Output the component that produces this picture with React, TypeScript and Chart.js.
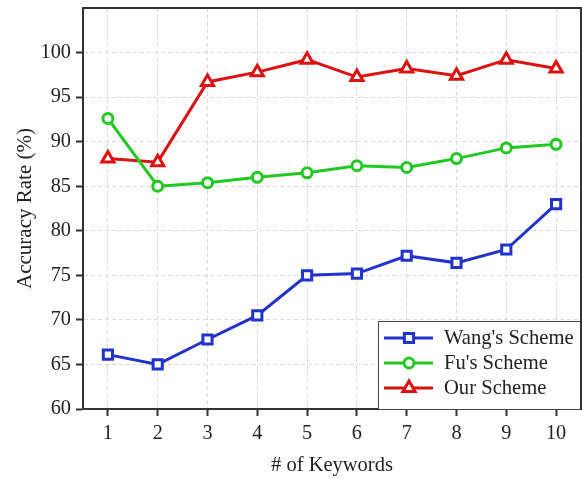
import React, { useEffect, useRef } from "react";
import { Chart, registerables } from "chart.js";
import { drawPoint } from "chart.js/helpers";

Chart.register(...registerables);

const keywords = ["1", "2", "3", "4", "5", "6", "7", "8", "9", "10"];
const wangScheme = [66.1, 65.0, 67.8, 70.5, 75.0, 75.2, 77.2, 76.4, 77.9, 83.0];
const fuScheme = [92.6, 85.0, 85.4, 86.0, 86.5, 87.3, 87.1, 88.1, 89.3, 89.7];
const ourScheme = [88.1, 87.7, 96.7, 97.8, 99.2, 97.25, 98.2, 97.4, 99.2, 98.2];
const seriesNames = ["Wang's Scheme", "Fu's Scheme", "Our Scheme"];
const seriesColors = ["#2233cc", "#22c822", "#dd1111"];

const FONT = "'Liberation Serif', 'Times New Roman', serif";

const framePlugin = {
  id: "frame",
  afterDatasetsDraw(chart: any) {
    const { ctx, chartArea } = chart;
    const { left, right, top, bottom } = chartArea;
    ctx.save();
    // legend box
    const bx1 = 378, bx2 = right, by1 = 321, by2 = bottom;
    ctx.fillStyle = "#ffffff";
    ctx.fillRect(bx1, by1, bx2 - bx1, by2 - by1);
    ctx.strokeStyle = "#444444";
    ctx.lineWidth = 1;
    ctx.strokeRect(bx1 + 0.5, by1 + 0.5, bx2 - bx1 - 1, by2 - by1);
    const rows = [338, 363, 388];
    chart.data.datasets.forEach((ds: any, i: number) => {
      const y = rows[i];
      ctx.strokeStyle = ds.borderColor;
      ctx.lineWidth = 3;
      ctx.beginPath();
      ctx.moveTo(384, y);
      ctx.lineTo(433, y);
      ctx.stroke();
      ctx.fillStyle = "#ffffff";
      ctx.strokeStyle = ds.borderColor;
      ctx.lineWidth = ds.pointBorderWidth;
      drawPoint(ctx, { pointStyle: ds.pointStyle, radius: ds.pointRadius, rotation: 0, borderWidth: ds.pointBorderWidth }, 409, y);
      ctx.fillStyle = "#222222";
      ctx.font = `20.6px ${FONT}`;
      ctx.textBaseline = "middle";
      ctx.textAlign = "left";
      ctx.fillText(ds.label, 444, y + 1);
    });
    // top and right frame
    ctx.strokeStyle = "#333333";
    ctx.lineWidth = 2;
    ctx.beginPath();
    ctx.moveTo(left, top);
    ctx.lineTo(right, top);
    ctx.lineTo(right, bottom);
    ctx.stroke();
    ctx.restore();
  },
};

const zeroPad = (s: any) => {
  s.paddingLeft = 0;
  s.paddingRight = 0;
  s.paddingTop = 0;
  s.paddingBottom = 0;
};

export default function App() {
  const ref = useRef<HTMLCanvasElement | null>(null);
  useEffect(() => {
    if (!ref.current) return;
    const mk = (i: number, data: number[], style: string, r: number) => ({
      label: seriesNames[i],
      data,
      borderColor: seriesColors[i],
      backgroundColor: "#ffffff",
      pointBackgroundColor: "#ffffff",
      pointBorderColor: seriesColors[i],
      pointBorderWidth: 3,
      pointStyle: style,
      pointRadius: r,
      borderWidth: 3,
      tension: 0,
      clip: 12,
    });
    const chart = new Chart(ref.current, {
      type: "line",
      data: {
        labels: keywords,
        datasets: [
          mk(0, wangScheme, "rect", 6.5),
          mk(1, fuScheme, "circle", 5),
          mk(2, ourScheme, "triangle", 7),
        ],
      },
      options: {
        animation: false,
        responsive: false,
        layout: { autoPadding: false, padding: { top: 8, right: 1, left: 0, bottom: 0 } },
        plugins: { legend: { display: false }, tooltip: { enabled: false } },
        scales: {
          x: {
            type: "category",
            offset: true,
            grid: {
              color: "#d9d9d9",
              lineWidth: 1,
              tickColor: "#333333",
              tickLength: 7,
              tickWidth: 2,
              tickBorderDash: [],
              offset: false,
            },
            border: { display: true, color: "#333333", width: 2, dash: [4, 3] },
            ticks: { color: "#222222", font: { family: FONT, size: 20.3 }, padding: 5 },
            title: {
              display: true,
              text: "# of Keywords",
              color: "#222222",
              font: { family: FONT, size: 20.5 },
              padding: { top: 0, bottom: 1 },
            },
            afterFit: (s: any) => {
              s.height = 70;
              zeroPad(s);
            },
          },
          y: {
            min: 60,
            max: 105,
            grid: {
              color: "#d9d9d9",
              lineWidth: 1,
              tickColor: "#333333",
              tickLength: 7,
              tickWidth: 2,
              tickBorderDash: [],
            },
            border: { display: true, color: "#333333", width: 2, dash: [4, 3] },
            ticks: { stepSize: 5, color: "#222222", font: { family: FONT, size: 20.3 }, padding: 5 },
            afterBuildTicks: (s: any) => {
              s.ticks = s.ticks.filter((t: any) => t.value <= 100);
            },
            title: {
              display: true,
              text: "Accuracy Rate (%)",
              color: "#222222",
              font: { family: FONT, size: 21 },
              padding: { top: 13, bottom: 0 },
            },
            afterFit: (s: any) => {
              s.width = 83;
              zeroPad(s);
            },
          },
        },
      },
      plugins: [framePlugin],
    } as any);
    return () => chart.destroy();
  }, []);
  return (
    <div style={{ position: "fixed", left: 0, top: 0, width: 582, height: 479, background: "#ffffff" }}>
      <canvas ref={ref} width={582} height={479} />
    </div>
  );
}
